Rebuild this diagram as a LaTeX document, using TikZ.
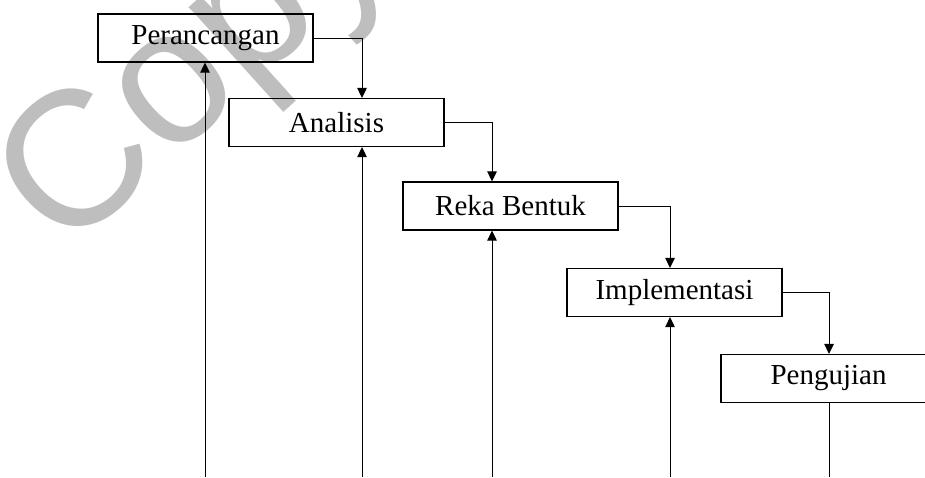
\documentclass[tikz,border=0pt]{standalone}
\usepackage{fontspec}
\setmainfont{Liberation Serif}
\newfontfamily\wmfont{Liberation Sans}
\usetikzlibrary{arrows.meta,calc}
\definecolor{wmgray}{RGB}{190,190,190}
\tikzset{
  stagebox/.style={draw=black,line width=0.65pt,minimum width=107.5pt,minimum height=24pt,inner sep=0pt,font=\fontsize{14.5pt}{17pt}\selectfont},
  conn/.style={line width=0.5pt,-{Triangle[length=5pt,width=4.8pt]}},
  plainconn/.style={line width=0.5pt},
  wmark/.style={text=wmgray,inner sep=0pt,anchor=base west,rotate=42,font=\wmfont\fontsize{96pt}{96pt}\selectfont}
}
\begin{document}
\begin{tikzpicture}[x=0.5pt,y=-0.5pt]
\useasboundingbox (0,0) rectangle (925,477);
\clip (0,0) rectangle (925,477);
\fill[white] (0,0) rectangle (925,477);
% watermark
\node[wmark] (wm) at (64.7,256.3) {Copy};
% stages
\node[stagebox] (b1) at (205.5,38) {Perancangan};
\node[stagebox] (b2) at (336.5,122.5) {Analisis};
\node[stagebox] (b3) at (510.5,206) {Reka Bentuk};
\node[stagebox] (b4) at (674.5,292.5) {Implementasi};
\node[stagebox] (b5) at (828.5,378.5) {Pengujian};
% bottom ends of feedback lines
\coordinate (f1) at (205,477);
\coordinate (f2) at (362,477);
\coordinate (f3) at (492,477);
\coordinate (f4) at (670,477);
\coordinate (f5) at (829,477);
% forward connectors
\draw[conn] (b1.east) -| (f2 |- b2.north);
\draw[conn] (b2.east) -| (f3 |- b3.north);
\draw[conn] (b3.east) -| (f4 |- b4.north);
\draw[conn] (b4.east) -| (f5 |- b5.north);
% feedback lines
\draw[conn] (f1) -- (f1 |- b1.south);
\draw[conn] (f2) -- (f2 |- b2.south);
\draw[conn] (f3) -- (f3 |- b3.south);
\draw[conn] (f4) -- (f4 |- b4.south);
\draw[plainconn] (f5 |- b5.south) -- (f5);
\end{tikzpicture}
\end{document}
